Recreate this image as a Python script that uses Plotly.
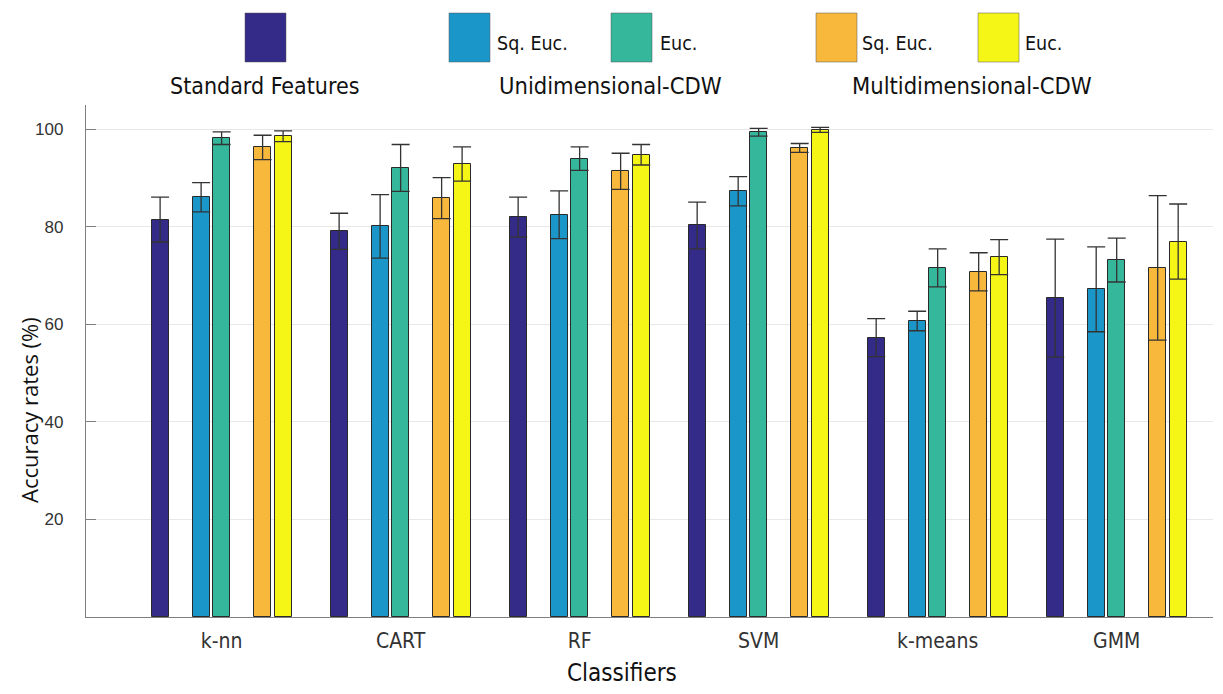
import plotly.graph_objects as go

# accuracy rates (%), with +/- error
classifiers = ["k-nn", "CART", "RF", "SVM", "k-means", "GMM"]

standard = [81.5, 79.1, 82.0, 80.3, 57.3, 65.4]
standard_err = [4.6, 3.7, 4.1, 4.8, 3.9, 12.1]

uni_sq = [86.1, 80.1, 82.5, 87.3, 60.7, 67.2]
uni_sq_err = [3.0, 6.5, 4.9, 3.0, 2.0, 8.7]
uni_euc = [98.2, 92.1, 94.0, 99.4, 71.6, 73.2]
uni_euc_err = [1.3, 4.8, 2.4, 0.8, 3.9, 4.5]

multi_sq = [96.3, 85.9, 91.4, 96.2, 70.8, 71.6]
multi_sq_err = [2.5, 4.2, 3.7, 0.9, 3.9, 14.8]
multi_euc = [98.6, 92.9, 94.8, 99.9, 73.8, 77.0]
multi_euc_err = [1.1, 3.5, 2.1, 0.5, 3.6, 7.7]

colors = {
    "standard": "#342a88",
    "uni_sq": "#1b96c9",
    "uni_euc": "#34b79a",
    "multi_sq": "#f8b83c",
    "multi_euc": "#f5f516",
}

NARROW = "DejaVu Sans Condensed, Liberation Sans Narrow, Arial Narrow, sans-serif"

# page has an 8px body margin, so the figure is laid out in page pixels minus 8
OFF = 8
W, H = 1207, 678
L, T = 86 - OFF, 105 - OFF
R = W - (1213 - OFF)
B = H - (617 - OFF)

slot = 0.1145      # spacing between bars inside a group (7 slots, two left empty)
bar_w = 0.095

series = [
    ("standard", standard, standard_err, -3),
    ("uni_sq", uni_sq, uni_sq_err, -1),
    ("uni_euc", uni_euc, uni_euc_err, 0),
    ("multi_sq", multi_sq, multi_sq_err, 2),
    ("multi_euc", multi_euc, multi_euc_err, 3),
]

fig = go.Figure()
for key, vals, errs, k in series:
    xs = [i + 1 + k * slot for i in range(len(classifiers))]
    fig.add_trace(go.Bar(
        x=xs, y=vals, width=bar_w,
        marker=dict(color=colors[key], line=dict(color="#2a2a2a", width=1)),
        error_y=dict(type="data", array=errs, color="#333333", thickness=1.3, width=9),
        showlegend=False,
    ))


def px(x):
    return (x - OFF - L) / (W - L - R)


def py(y):
    return (H - B - (y - OFF)) / (H - T - B)


# legend drawn by hand: swatches on top, group names underneath
swatches = [
    ("standard", 245, 286),
    ("uni_sq", 449, 490),
    ("uni_euc", 611, 652),
    ("multi_sq", 816, 857),
    ("multi_euc", 978, 1019),
]
for key, x0, x1 in swatches:
    fig.add_shape(type="rect", xref="paper", yref="paper",
                  x0=px(x0), x1=px(x1), y0=py(62), y1=py(13),
                  fillcolor=colors[key], line=dict(color="#555555", width=0.5))

legend_txt = [
    ("Sq. Euc.", 495, 43, "left", 19.5),
    ("Euc.", 658, 43, "left", 19.5),
    ("Sq. Euc.", 860, 43, "left", 19.5),
    ("Euc.", 1023, 43, "left", 19.5),
    ("Standard Features", 264, 86, "center", 23),
    ("Unidimensional-CDW", 610, 86, "center", 23.5),
    ("Multidimensional-CDW", 972, 86, "center", 23.5),
]
for txt, x, y, anchor, size in legend_txt:
    fig.add_annotation(text=txt, xref="paper", yref="paper", x=px(x), y=py(y),
                       xanchor=anchor, yanchor="middle", showarrow=False,
                       font=dict(family=NARROW, size=size, color="#111111"))

fig.add_annotation(text="Classifiers", xref="paper", yref="paper",
                   x=px(622), y=py(673), xanchor="center", yanchor="middle",
                   showarrow=False, font=dict(family=NARROW, size=24, color="#111111"))
fig.add_annotation(text="Accuracy rates (%)", xref="paper", yref="paper",
                   x=px(29), y=py(410), xanchor="center", yanchor="middle",
                   textangle=-90, showarrow=False,
                   font=dict(family="Open Sans, sans-serif", size=22, color="#111111"))

fig.update_layout(
    width=W, height=H,
    margin=dict(l=L, r=R, t=T, b=B),
    plot_bgcolor="white", paper_bgcolor="white",
    bargap=0, barmode="overlay",
)
fig.update_xaxes(
    range=[0.2425, 6.538],
    tickvals=list(range(1, len(classifiers) + 1)), ticktext=classifiers,
    ticks="outside", ticklen=5, tickcolor="rgba(0,0,0,0)",
    tickfont=dict(family=NARROW, size=21, color="#333333"),
    showgrid=False, zeroline=False,
    showline=True, linecolor="#7f7f7f", linewidth=1.3,
)
fig.update_yaxes(
    range=[0, 105],
    tickvals=[20, 40, 60, 80, 100],
    ticks="inside", ticklen=10, tickcolor="#7f7f7f",
    ticklabelstandoff=18,
    tickfont=dict(family="Liberation Sans, Arial, sans-serif", size=17, color="#333333"),
    showgrid=True, gridcolor="#e8e8e8", gridwidth=1, zeroline=False,
    showline=True, linecolor="#7f7f7f", linewidth=1.3,
)

fig.write_html("out.html")
